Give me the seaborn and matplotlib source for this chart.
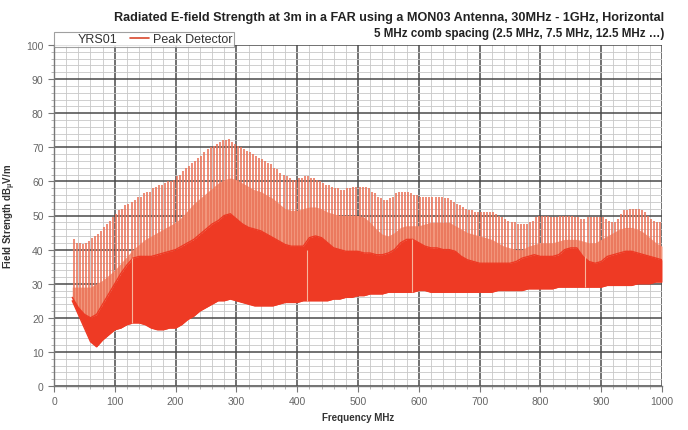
import numpy as np
import matplotlib
matplotlib.use("Agg")
import matplotlib.pyplot as plt
from matplotlib.lines import Line2D
from matplotlib.ticker import MultipleLocator
import seaborn as sns

# envelope frequencies (MHz), 10 MHz steps
env_freq = list(range(30, 1001, 10))

# lower edge of the dense trace (noise floor), dBuV/m
floor_db = [25, 21, 17, 13, 11.5, 13.5, 15, 16.5, 17, 18,
            18.5, 18.5, 18, 17, 16.5, 16.5, 17, 17, 18, 19.5,
            20.5, 22, 23, 24, 25, 25, 25.5, 25, 24.5, 24,
            23.5, 23.5, 23.5, 23.5, 24, 24.5, 24.5, 24.5, 25, 25,
            25, 25, 25, 25.5, 25.5, 26, 26, 26.5, 26.5, 27,
            27, 27, 27.5, 27.5, 27.5, 27.5, 27.5, 28, 28, 27.5,
            27.5, 27.5, 27.5, 27.5, 27.5, 27.5, 27.5, 27.5, 27.5, 27.5,
            28, 28, 28, 28, 28, 28.5, 28.5, 28.5, 28.5, 28.5,
            29, 29, 29, 29, 29, 29, 29, 29, 29.5, 29.5,
            29.5, 29.5, 29.5, 30, 30, 30, 30.5, 30.5]

# top of the solid body of the trace
body_top_db = [26, 23, 21, 20, 21, 24, 27, 30, 33, 35.5,
               37.5, 38, 38, 38, 38.5, 39, 39.5, 40, 41, 42,
               43, 44.5, 46, 47.5, 48.5, 50, 50.5, 49, 47.5, 46.5,
               46, 45.5, 44.5, 43.5, 42.5, 41.5, 41, 41, 41, 43.5,
               44, 43.5, 42, 40.5, 40, 39.5, 39.5, 39.5, 39, 39,
               38.5, 38.5, 39, 40, 42, 43, 43, 42, 41, 40.5,
               40.5, 40, 40, 39.5, 38, 37, 36.5, 36, 36, 36,
               36, 36, 36, 36.5, 37.5, 38, 38.5, 38, 38, 38,
               38.5, 40, 40.5, 40.5, 38, 36.5, 36, 36.5, 38, 38.5,
               39, 39.5, 39.5, 39, 38.5, 38, 37.5, 37]

# top of the lighter band of lower spikes
mid_top_db = [29, 29, 29, 29, 30, 31, 32.5, 34, 36, 38,
              40, 41.5, 43, 44, 45, 46, 47, 48, 49.5, 51.5,
              53.5, 55, 56.5, 58, 59.5, 60.5, 61, 60.5, 59.5, 58.5,
              57.5, 57, 56, 55, 53.5, 52, 51.5, 51.5, 52, 52.5,
              52.5, 52, 51, 50.5, 50, 50, 50, 50, 49.5, 48,
              46, 44.5, 44, 45, 46.5, 47, 47, 47, 47.5, 48,
              48, 48, 48, 47, 46, 45, 44.5, 44, 43.5, 43,
              42, 41, 40.5, 40, 40, 41, 41.5, 42, 42, 42,
              42.5, 43, 43, 43, 42.5, 42, 42, 43, 44, 45,
              46, 46.5, 46.5, 46, 45, 43.5, 42, 41]

# comb lines every 5 MHz (2.5, 7.5, 12.5 ... MHz), visible from 32.5 MHz
comb_freq = [32.5 + 5 * i for i in range(194)]
comb_peak_db = [43, 42, 42, 41.5, 42, 42.5, 43.5, 44, 44.5, 45.5, 46.5, 47.5, 48.5, 49.5,
                50.5, 51.5, 52, 53, 53.5, 54, 54.5, 55.5, 55.5, 56.5,
                57, 57, 58, 58.5, 59, 59, 59.5, 60, 60, 60.5,
                61.5, 62, 63, 64, 64.5, 65.5, 66, 67, 67.5, 68.5,
                69.5, 70, 70.5, 71, 71.5, 72, 72, 72.5, 71.5, 71,
                70.5, 70, 69.5, 69, 68.5, 68, 67.5, 67, 66.5, 66,
                65.5, 65, 64, 63.5, 62.5, 62, 61.5, 61, 60.5, 60.5,
                61, 61, 61.5, 61.5, 61, 61, 60.5, 60, 59.5, 59,
                59, 58.5, 58, 58, 57.5, 57.5, 58, 58, 58.5, 58.5,
                58.5, 58.5, 58.5, 58, 57, 56.5, 55.5, 55, 54.5, 54.5,
                55, 55.5, 56.5, 57, 57, 57, 57, 56.5, 56, 56,
                55.5, 55.5, 55.5, 55.5, 55.5, 55.5, 55.5, 55.5, 55, 55,
                54.5, 54, 53.5, 53, 52.5, 52, 51.5, 51.5, 51, 51,
                51, 51, 51, 51, 51, 50.5, 50, 49.5, 49, 48.5,
                48, 48, 47.5, 47.5, 47.5, 47.5, 48, 48.5, 49.5, 50,
                50, 50, 50, 49.5, 49.5, 49.5, 50, 50, 50, 50,
                50, 49.5, 49.5, 49, 49, 49.5, 49.5, 49.5, 49.5, 49.5,
                49.5, 49, 48.5, 48, 48, 49, 50.5, 51.5, 51.5, 52,
                52, 52, 52, 51.5, 51, 50, 49, 48.5, 48, 48]

# sweep-segment joins visible as pale lines in the body
join_freq = [128, 416, 588, 873]
join_low_db = [18.5, 25, 27.5, 29]
join_high_db = [37.5, 40, 43, 38]

x_ticks = list(range(0, 1001, 100))
y_ticks = list(range(0, 101, 10))

sns.set_theme(style="white")
plt.rcParams['font.family'] = ['Liberation Sans', 'DejaVu Sans']

fig = plt.figure(figsize=(6.88, 4.31), dpi=100)
ax = fig.add_axes([54 / 688, 44 / 431, 608 / 688, 341 / 431])

red = '#ee3a24'
salmon = '#f2967c'
spike = '#ea7257'

# region above the noise floor, used to clip the comb lines
above_floor = ax.fill_between(env_freq, floor_db, 100, color='none', lw=0)

ax.fill_between(env_freq, body_top_db, mid_top_db, color=salmon, lw=0, zorder=2)
spikes = ax.vlines(comb_freq, 0, comb_peak_db, color=spike, lw=1.15, zorder=3)
spikes.set_clip_path(above_floor.get_paths()[0], ax.transData)
ax.fill_between(env_freq, floor_db, body_top_db, color=red, lw=0, zorder=4)
sns.lineplot(x=env_freq, y=body_top_db, ax=ax, color=red, lw=1.0, zorder=4)
sns.lineplot(x=env_freq, y=floor_db, ax=ax, color=red, lw=1.0, zorder=4)
ax.vlines(join_freq, join_low_db, join_high_db, color='#f7b59c', lw=0.8, zorder=5)

ax.set_xlim(0, 1000)
ax.set_ylim(0, 100)
ax.set_xticks(x_ticks)
ax.set_yticks(y_ticks)
ax.xaxis.set_minor_locator(MultipleLocator(20))
ax.yaxis.set_minor_locator(MultipleLocator(2))
ax.grid(which='minor', color='#c8c8c8', lw=0.6, zorder=0)
ax.grid(which='major', color='#4a4a4a', lw=1.1, zorder=1)
ax.set_axisbelow(True)

for side in ['top', 'right']:
    ax.spines[side].set_visible(False)
for side in ['left', 'bottom']:
    ax.spines[side].set_color('#777777')
    ax.spines[side].set_linewidth(1.0)

ax.tick_params(axis='both', which='major', labelsize=7.5, colors='#777777',
               labelcolor='#666666', length=4, width=0.8, direction='out',
               left=True, bottom=True)
ax.tick_params(axis='both', which='minor', length=2, width=0.5, colors='#999999',
               left=True, bottom=True)

ax.set_xlabel('Frequency MHz', fontsize=7, fontweight='bold', color='#333333', labelpad=4)
ax.set_ylabel(r'Field Strength dB$_\mathregular{\mu}$V/m', fontsize=7, fontweight='bold',
              color='#333333', labelpad=6)

fig.text(664 / 688, 1 - 18 / 431,
         'Radiated E-field Strength at 3m in a FAR using a MON03 Antenna, 30MHz - 1GHz, Horizontal',
         ha='right', va='center', fontsize=9.1, fontweight='bold', color='#222222')
fig.text(664 / 688, 1 - 34 / 431,
         '5 MHz comb spacing (2.5 MHz, 7.5 MHz, 12.5 MHz \u2026)',
         ha='right', va='center', fontsize=8.4, fontweight='bold', color='#222222')

handles = [Line2D([], [], color='none'), Line2D([], [], color='#d9482e', lw=1.2)]
leg = ax.legend(handles, ['YRS01', 'Peak Detector'], ncol=2, loc='lower left',
                bbox_to_anchor=(0.0, 0.995), frameon=True, fancybox=False,
                fontsize=9, handlelength=1.5, handletextpad=0.3, columnspacing=1.0,
                borderpad=0.12, borderaxespad=0.0, labelcolor='#333333')
leg.get_frame().set_edgecolor('#888888')
leg.get_frame().set_linewidth(0.8)

fig.savefig('out.png', dpi=100)
